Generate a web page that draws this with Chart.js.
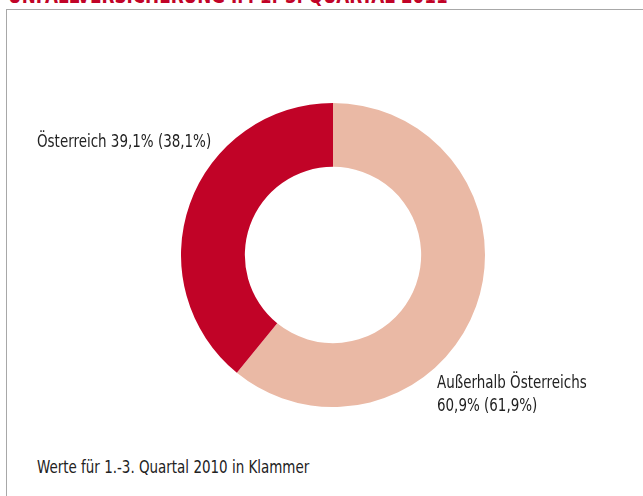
<!DOCTYPE html>
<html>
<head>
<meta charset="utf-8">
<script src="https://cdn.jsdelivr.net/npm/chart.js@4/dist/chart.umd.min.js"></script>
<style>
  html, body { margin: 0; padding: 0; background: #fff; }
  body { width: 643px; height: 496px; position: relative; overflow: hidden;
         font-family: "DejaVu Sans Condensed", "Liberation Sans", sans-serif; color: #222; }
  .title { position: absolute; left: 8px; top: -16px; font-size: 21px; font-weight: bold; color: #c10327; white-space: nowrap;
           transform: scaleX(0.89); transform-origin: 0 0; }
  .frame { position: absolute; left: 6px; top: 9px; width: 700px; height: 600px; border: 1.5px solid #a8a8a8; }
  .lbl { position: absolute; font-size: 17px; line-height: 23px; white-space: nowrap; transform: scaleX(0.88); transform-origin: 0 0; }
  .wrap { position: absolute; left: 181px; top: 103px; width: 304px; height: 304px; }
</style>
</head>
<body>
<div class="title">UNFALLVERSICHERUNG IM 1.-3. QUARTAL 2011</div>
<div class="frame"></div>
<div class="wrap"><canvas id="pie"></canvas></div>
<div class="lbl" id="lblA" style="left:37px; top:130px;"></div>
<div class="lbl" id="lblB" style="left:437px; top:371px;"></div>
<div class="lbl" id="note" style="left:37px; top:456px;">Werte für 1.-3. Quartal 2010 in Klammer</div>
<script>
var categories = ['Außerhalb Österreichs', 'Österreich'];
var values2011 = [60.9, 39.1];
var values2010 = [61.9, 38.1];
var colors = ['#eab9a5', '#c10327'];

function pct(v) {
	return v.toFixed(1).replace('.', ',') + '%';
}

document.getElementById('lblB').innerHTML = categories[0] + '<br>' + pct(values2011[0]) + ' (' + pct(values2010[0]) + ')';
document.getElementById('lblA').innerHTML = categories[1] + ' ' + pct(values2011[1]) + ' (' + pct(values2010[1]) + ')';

var ctx = document.getElementById('pie').getContext('2d');
var chart = new Chart(ctx, {
	type: 'doughnut',
	data: {
		labels: categories,
		datasets: [{
			data: values2011,
			backgroundColor: colors,
			borderWidth: 0
		}]
	},
	options: {
		responsive: true,
		maintainAspectRatio: false,
		animation: false,
		cutout: '58%',
		layout: { padding: 0 },
		plugins: {
			legend: { display: false },
			tooltip: { enabled: false }
		}
	}
});
</script>
</body>
</html>
